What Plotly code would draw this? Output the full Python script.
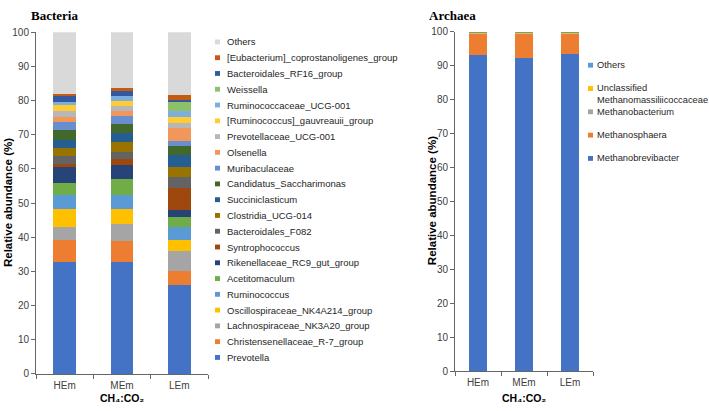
import plotly.graph_objects as go

W, H = 709, 411

groups = ["HEm", "MEm", "LEm"]

# Bacteria (stack order bottom -> top)
bac_names = [
    "Prevotella", "Christensenellaceae_R-7_group", "Lachnospiraceae_NK3A20_group",
    "Oscillospiraceae_NK4A214_group", "Ruminococcus", "Acetitomaculum",
    "Rikenellaceae_RC9_gut_group", "Syntrophococcus", "Bacteroidales_F082",
    "Clostridia_UCG-014", "Succiniclasticum", "Candidatus_Saccharimonas",
    "Muribaculaceae", "Olsenella", "Prevotellaceae_UCG-001",
    "[Ruminococcus]_gauvreauii_group", "Ruminococcaceae_UCG-001", "Weissella",
    "Bacteroidales_RF16_group", "[Eubacterium]_coprostanoligenes_group", "Others",
]
bac_HEm = [32.7, 6.6, 3.8, 5.1, 4.3, 3.5, 4.5, 1.0, 2.3, 2.3, 2.5, 2.7, 2.4, 1.4, 1.9, 1.6, 1.0, 0.1, 1.5, 0.8, 18.0]
bac_MEm = [32.7, 6.3, 5.0, 4.4, 4.1, 4.4, 4.3, 1.6, 2.2, 3.0, 2.4, 2.6, 2.4, 1.4, 1.6, 1.5, 1.4, 0.1, 1.3, 1.0, 16.3]
bac_LEm = [26.0, 4.1, 6.0, 3.2, 3.6, 2.9, 2.2, 6.3, 3.2, 3.2, 3.3, 2.6, 1.7, 3.7, 1.5, 1.6, 1.7, 2.8, 0.7, 1.4, 18.3]
bac_colors = [
    "#4472C4", "#ED7D31", "#A5A5A5", "#FFC000", "#5B9BD5", "#70AD47",
    "#264478", "#9E480E", "#636363", "#997300", "#255E91", "#43682B",
    "#698ED0", "#F1975A", "#B7B7B7", "#FFCD33", "#7CAFDD", "#8CC168",
    "#335AA1", "#C55A11", "#D9D9D9",
]

# Archaea (stack order bottom -> top)
arc_names = ["Methanobrevibacter", "Methanosphaera", "Methanobacterium",
             "Unclassified<br>Methanomassiliicoccaceae", "Others"]
arc_HEm = [93.0, 6.6, 0.1, 0.1, 0.1]
arc_MEm = [92.2, 7.4, 0.1, 0.1, 0.1]
arc_LEm = [93.4, 6.2, 0.1, 0.1, 0.1]
arc_colors = ["#4472C4", "#ED7D31", "#A5A5A5", "#FFC000", "#5B9BD5"]

yticks = list(range(0, 101, 10))

fig = go.Figure()
for i, name in enumerate(bac_names):
    fig.add_trace(go.Bar(x=groups, y=[bac_HEm[i], bac_MEm[i], bac_LEm[i]], name=name,
                         marker=dict(color=bac_colors[i], line=dict(width=0)),
                         width=0.4, xaxis="x", yaxis="y", showlegend=False))
for i, name in enumerate(arc_names):
    fig.add_trace(go.Bar(x=groups, y=[arc_HEm[i], arc_MEm[i], arc_LEm[i]], name=name,
                         marker=dict(color=arc_colors[i], line=dict(width=0)),
                         width=0.38, xaxis="x2", yaxis="y2", showlegend=False))

def px(x):
    return x / W

def py(y):
    return 1 - y / H

axis_font = dict(family="Liberation Sans, Arial", size=10, color="#404040")
common_x = dict(type="category", showgrid=False, showline=True, linecolor="#666666",
                linewidth=1, ticks="outside", tickson="boundaries", ticklen=4,
                tickcolor="#666666", tickfont=axis_font, fixedrange=True,
                ticklabelstandoff=2)
common_y = dict(range=[0, 100], tickvals=yticks, showgrid=False, showline=True,
                linecolor="#666666", linewidth=1, ticks="outside", ticklen=4,
                tickcolor="#666666", tickfont=axis_font, zeroline=False, fixedrange=True)

ann = []
shapes = []

# Left legend (top -> bottom = reversed stack order)
n = len(bac_names)
for k, idx in enumerate(reversed(range(n))):
    yc = 37 + k * 16.25
    shapes.append(dict(type="rect", xref="paper", yref="paper",
                       x0=px(215), x1=px(220), y0=py(yc + 2.5), y1=py(yc - 2.5),
                       fillcolor=bac_colors[idx], line=dict(width=0)))
    ann.append(dict(text=bac_names[idx], xref="paper", yref="paper", x=px(225), y=py(yc),
                    xanchor="left", yanchor="middle", showarrow=False,
                    font=dict(family="Liberation Sans, Arial", size=9.5, color="#262626")))

# Right legend
arc_leg_y = [61, 85, 109, 133, 157]
arc_text_y = [61, 91, 109, 133, 157]
for k, idx in enumerate(reversed(range(len(arc_names)))):
    yc = arc_leg_y[k]
    shapes.append(dict(type="rect", xref="paper", yref="paper",
                       x0=px(588), x1=px(593), y0=py(yc + 2.5), y1=py(yc - 2.5),
                       fillcolor=arc_colors[idx], line=dict(width=0)))
    ann.append(dict(text=arc_names[idx], xref="paper", yref="paper", x=px(595), y=py(arc_text_y[k]),
                    xanchor="left", yanchor="middle", showarrow=False, align="left",
                    font=dict(family="Liberation Sans, Arial", size=9.3, color="#262626")))

# Titles
title_font = dict(family="Liberation Serif, Times New Roman", size=13, color="#000000")
ann.append(dict(text="<b>Bacteria</b>", xref="paper", yref="paper", x=px(29), y=py(10),
                xanchor="left", yanchor="middle", showarrow=False, font=title_font))
ann.append(dict(text="<b>Archaea</b>", xref="paper", yref="paper", x=px(427), y=py(10),
                xanchor="left", yanchor="middle", showarrow=False, font=title_font))

ylab_font = dict(family="Liberation Sans, Arial", size=11.5, color="#000000")
ann.append(dict(text="<b>Relative abundance (%)</b>", xref="paper", yref="paper", x=px(8), y=py(203),
                xanchor="center", yanchor="middle", textangle=-90, showarrow=False, font=ylab_font))
ann.append(dict(text="<b>Relative abundance (%)</b>", xref="paper", yref="paper", x=px(432), y=py(201),
                xanchor="center", yanchor="middle", textangle=-90, showarrow=False, font=ylab_font))

xlab_font = dict(family="Liberation Sans, DejaVu Sans, Arial", size=10.5, color="#000000")
xlab = "<b>CH\u2084:CO\u2082</b>"
ann.append(dict(text=xlab, xref="paper", yref="paper", x=px(122), y=py(404),
                xanchor="center", yanchor="middle", showarrow=False, font=xlab_font))
ann.append(dict(text=xlab, xref="paper", yref="paper", x=px(524), y=py(404),
                xanchor="center", yanchor="middle", showarrow=False, font=xlab_font))

fig.update_layout(
    width=W, height=H, margin=dict(l=0, r=0, t=0, b=0),
    paper_bgcolor="white", plot_bgcolor="white",
    barmode="stack", bargap=0.6,
    xaxis=dict(domain=[px(36), px(208)], anchor="y", **common_x),
    yaxis=dict(domain=[py(379), py(27)], anchor="x", **common_y),
    xaxis2=dict(domain=[px(455), px(593)], anchor="y2", **common_x),
    yaxis2=dict(domain=[py(376), py(26.5)], anchor="x2", **common_y),
    annotations=ann, shapes=shapes,
)

fig.write_html("out.html")
